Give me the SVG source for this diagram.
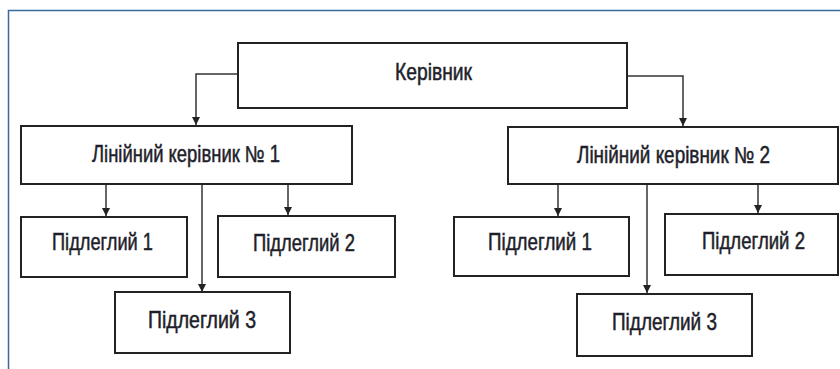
<svg xmlns="http://www.w3.org/2000/svg" width="840" height="369" viewBox="0 0 840 369">
<style>
.box{fill:#fff;stroke:#222;stroke-width:2}
.t{font-family:"Liberation Sans",Arial,sans-serif;font-size:23px;fill:#1e1e2a;stroke:#1e1e2a;stroke-width:0.5}
.c{fill:none;stroke:#333;stroke-width:1.5}
.frame{fill:none;stroke:#3a6a9a;stroke-width:1.5}
</style>
<defs>
<marker id="ah" viewBox="0 0 10 10" refX="10" refY="5" markerWidth="8" markerHeight="8" markerUnits="userSpaceOnUse" orient="auto">
<path d="M0,0 L10,5 L0,10 z" fill="#222"/>
</marker>
</defs>
<rect x="0" y="0" width="840" height="369" fill="#fff"/>
<path class="frame" d="M8.5,369 V10.5 H840"/>
<g id="connectors">
<path class="c" d="M238,74 H196 V125" marker-end="url(#ah)"/>
<path class="c" d="M627,76 H683 V126" marker-end="url(#ah)"/>
<path class="c" d="M106,184 V216" marker-end="url(#ah)"/>
<path class="c" d="M202,184 V292" marker-end="url(#ah)"/>
<path class="c" d="M288,184 V215" marker-end="url(#ah)"/>
<path class="c" d="M558,184 V216" marker-end="url(#ah)"/>
<path class="c" d="M647,184 V293" marker-end="url(#ah)"/>
<path class="c" d="M758,184 V213" marker-end="url(#ah)"/>
</g>
<g id="kerivnyk">
<rect class="box" x="238" y="43" width="389" height="65"/>
<text class="t" x="395" y="80" textLength="77" lengthAdjust="spacingAndGlyphs">Керівник</text>
</g>
<g id="lk1">
<rect class="box" x="21" y="126" width="331" height="58"/>
<text class="t" x="92" y="162" textLength="188" lengthAdjust="spacingAndGlyphs">Лінійний керівник № 1</text>
</g>
<g id="lk2">
<rect class="box" x="508" y="127" width="330" height="57"/>
<text class="t" x="577" y="163" textLength="193" lengthAdjust="spacingAndGlyphs">Лінійний керівник № 2</text>
</g>
<g id="p1-left">
<rect class="box" x="21" y="217" width="166" height="60"/>
<text class="t" x="52" y="250" textLength="101" lengthAdjust="spacingAndGlyphs">Підлеглий 1</text>
</g>
<g id="p2-left">
<rect class="box" x="218" y="216" width="177" height="61"/>
<text class="t" x="253" y="251" textLength="102" lengthAdjust="spacingAndGlyphs">Підлеглий 2</text>
</g>
<g id="p3-left">
<rect class="box" x="115" y="292" width="175" height="61"/>
<text class="t" x="148" y="328" textLength="108" lengthAdjust="spacingAndGlyphs">Підлеглий 3</text>
</g>
<g id="p1-right">
<rect class="box" x="454" y="217" width="175" height="59"/>
<text class="t" x="488" y="250" textLength="104" lengthAdjust="spacingAndGlyphs">Підлеглий 1</text>
</g>
<g id="p2-right">
<rect class="box" x="665" y="214" width="173" height="61"/>
<text class="t" x="702" y="249" textLength="103" lengthAdjust="spacingAndGlyphs">Підлеглий 2</text>
</g>
<g id="p3-right">
<rect class="box" x="577" y="294" width="175" height="62"/>
<text class="t" x="612" y="330" textLength="105" lengthAdjust="spacingAndGlyphs">Підлеглий 3</text>
</g>
</svg>
